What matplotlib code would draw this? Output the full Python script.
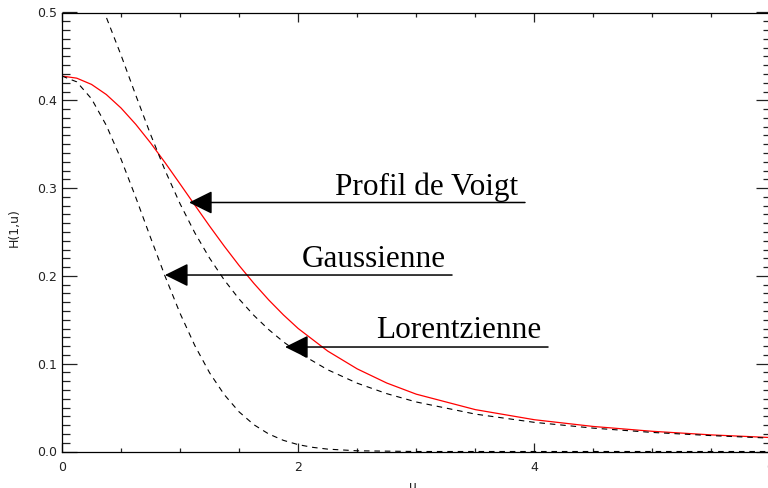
import matplotlib
matplotlib.use("Agg")
import matplotlib.pyplot as plt
from matplotlib.ticker import MultipleLocator, FormatStrFormatter

# Voigt profile H(1,u)
u_voigt = [0, 0.125, 0.25, 0.375, 0.5, 0.625, 0.75, 0.875, 1.0, 1.125, 1.25, 1.375,
           1.5, 1.625, 1.75, 1.875, 2.0, 2.25, 2.5, 2.75, 3.0, 3.5, 4.0, 4.5, 5.0, 5.5, 6.0]
h_voigt = [0.4276, 0.4252, 0.4181, 0.4066, 0.3912, 0.3726, 0.3515, 0.3286, 0.3047, 0.2806,
           0.2567, 0.2337, 0.2118, 0.1915, 0.1727, 0.1556, 0.1401, 0.1144, 0.0941, 0.0780,
           0.0653, 0.0477, 0.0362, 0.0285, 0.0230, 0.0189, 0.0159]

# gaussian (same peak)
u_gauss = [0, 0.125, 0.25, 0.375, 0.5, 0.625, 0.75, 0.875, 1.0, 1.125, 1.25, 1.375,
           1.5, 1.625, 1.75, 1.875, 2.0, 2.125, 2.25, 2.5, 3.0, 4.0, 5.0, 6.0]
h_gauss = [0.4276, 0.4210, 0.4017, 0.3715, 0.3330, 0.2893, 0.2436, 0.1989, 0.1573, 0.1206,
           0.0896, 0.0646, 0.0451, 0.0305, 0.0200, 0.0127, 0.0078, 0.0047, 0.0027, 0.0008,
           0.0, 0.0, 0.0, 0.0]

# lorentzian
u_lor = [0, 0.125, 0.25, 0.375, 0.5, 0.625, 0.75, 0.875, 1.0, 1.125, 1.25, 1.375, 1.5,
         1.625, 1.75, 1.875, 2.0, 2.25, 2.5, 2.75, 3.0, 3.5, 4.0, 4.5, 5.0, 5.5, 6.0]
h_lor = [0.5642, 0.5555, 0.5310, 0.4946, 0.4514, 0.4057, 0.3611, 0.3195, 0.2821, 0.2490,
         0.2202, 0.1952, 0.1736, 0.1550, 0.1389, 0.1249, 0.1128, 0.0931, 0.0778, 0.0659,
         0.0564, 0.0426, 0.0332, 0.0266, 0.0217, 0.0181, 0.0152]

labels = ["Profil de Voigt", "Gaussienne", "Lorentzienne"]

# arrow layout: (tip u, line y, tail u, text baseline y)
arrows = [(1.076, 0.2836, 3.921, 0.2921),
          (0.872, 0.2010, 3.303, 0.2101),
          (1.889, 0.1190, 4.116, 0.1293)]

plt.rcParams['lines.scale_dashes'] = False

fig = plt.figure(figsize=(7.68, 4.88), dpi=100)
ax = fig.add_axes([62 / 768, 36.5 / 488, 708.5 / 768, 439 / 488])

ax.plot(u_voigt, h_voigt, color='red', lw=0.9)
ax.plot(u_gauss, h_gauss, color='black', lw=0.8, dashes=(4, 3.5))
ax.plot(u_lor, h_lor, color='black', lw=0.8, dashes=(4, 3.5))

for lab, (tip, yl, tail, yb) in zip(labels, arrows):
    ax.annotate('', xy=(tip, yl), xytext=(tail, yl),
                arrowprops=dict(arrowstyle='-|>,head_length=1.45,head_width=0.72',
                                color='black', lw=1.1, shrinkA=0, shrinkB=0,
                                mutation_scale=10))
    ax.text(tail - 0.055, yb, lab, ha='right', va='baseline',
            family='Liberation Serif', fontsize=22.5)

ax.set_xlim(0, 6)
ax.set_ylim(0, 0.5)
ax.xaxis.set_major_locator(MultipleLocator(2))
ax.xaxis.set_minor_locator(MultipleLocator(0.5))
ax.yaxis.set_major_locator(MultipleLocator(0.1))
ax.yaxis.set_minor_locator(MultipleLocator(0.01))
ax.yaxis.set_major_formatter(FormatStrFormatter('%.1f'))

ax.tick_params(which='both', direction='in', top=True, right=True,
               labelsize=9, colors='#222222')
ax.tick_params(axis='x', which='major', length=6.5, width=0.9, pad=7)
ax.tick_params(axis='x', which='minor', length=3.2, width=0.9)
ax.tick_params(axis='y', which='major', length=10.8, width=0.9, pad=3.5)
ax.tick_params(axis='y', which='minor', length=5.8, width=0.9)
for s in ax.spines.values():
    s.set_linewidth(0.9)

ax.set_ylabel('H(1,u)', fontsize=9, color='#222222')
ax.yaxis.set_label_coords(-0.058, 0.509)
ax.set_xlabel('u', fontsize=9, color='#222222')
ax.xaxis.set_label_coords(0.495, -0.065)

fig.savefig('out.png', dpi=100)
